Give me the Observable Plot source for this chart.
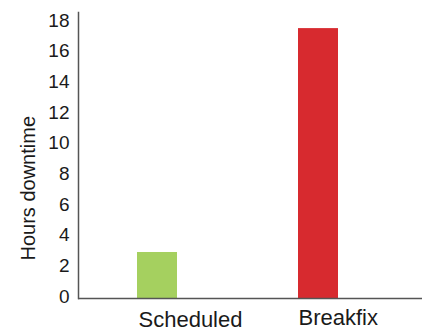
<!DOCTYPE html>
<html>
<head>
<meta charset="utf-8">
<script src="https://cdn.jsdelivr.net/npm/d3@7"></script>
<script src="https://cdn.jsdelivr.net/npm/@observablehq/plot@0.6"></script>
<style>
  html, body { margin: 0; padding: 0; background: #fff; }
  #chart svg { display: block; }
</style>
</head>
<body>
<div id="chart"></div>
<script>
const categories = ["Scheduled", "Breakfix"];
const hours = [3, 17.6];
const barColors = ["#a5d05f", "#d72a2f"];
const yTicks = [0, 2, 4, 6, 8, 10, 12, 14, 16, 18];
const yLabel = "Hours downtime";

const data = categories.map((c, i) => ({category: c, hours: hours[i], color: barColors[i]}));
const font = "'Liberation Sans', Arial, Helvetica, sans-serif";

const chart = Plot.plot({
  width: 423,
  height: 332,
  marginTop: 12,
  marginBottom: 34,
  marginLeft: 78,
  marginRight: 1,
  style: {fontFamily: font, color: "#1a1a1a", background: "#fff"},
  x: {domain: categories, range: [136, 338], paddingInner: 0.753, paddingOuter: 0, align: 0.5},
  y: {domain: [0, 18.65], range: [298, 12]},
  marks: [
    Plot.barY(data, {x: "category", y: "hours", fill: "color"}),
    Plot.axisY({ticks: yTicks, tickSize: 0, tickPadding: 9, fontSize: 19, dy: -2, label: null}),
    Plot.axisX({ticks: ["Scheduled"], tickSize: 0, tickPadding: 13, fontSize: 22, textAnchor: "start", dx: -19, label: null}),
    Plot.axisX({ticks: ["Breakfix"], tickSize: 0, tickPadding: 11, fontSize: 22, textAnchor: "start", dx: -20, label: null}),
    Plot.text([yLabel], {frameAnchor: "bottom-left", text: d => d, rotate: -90, textAnchor: "start", dx: -44, dy: -38, fontSize: 20, fill: "#1a1a1a"}),
    Plot.ruleY([0], {stroke: "#555", strokeWidth: 1.5}),
    Plot.frame({anchor: "left", stroke: "#555", strokeWidth: 1.5})
  ]
});
document.getElementById("chart").append(chart);
</script>
</body>
</html>
